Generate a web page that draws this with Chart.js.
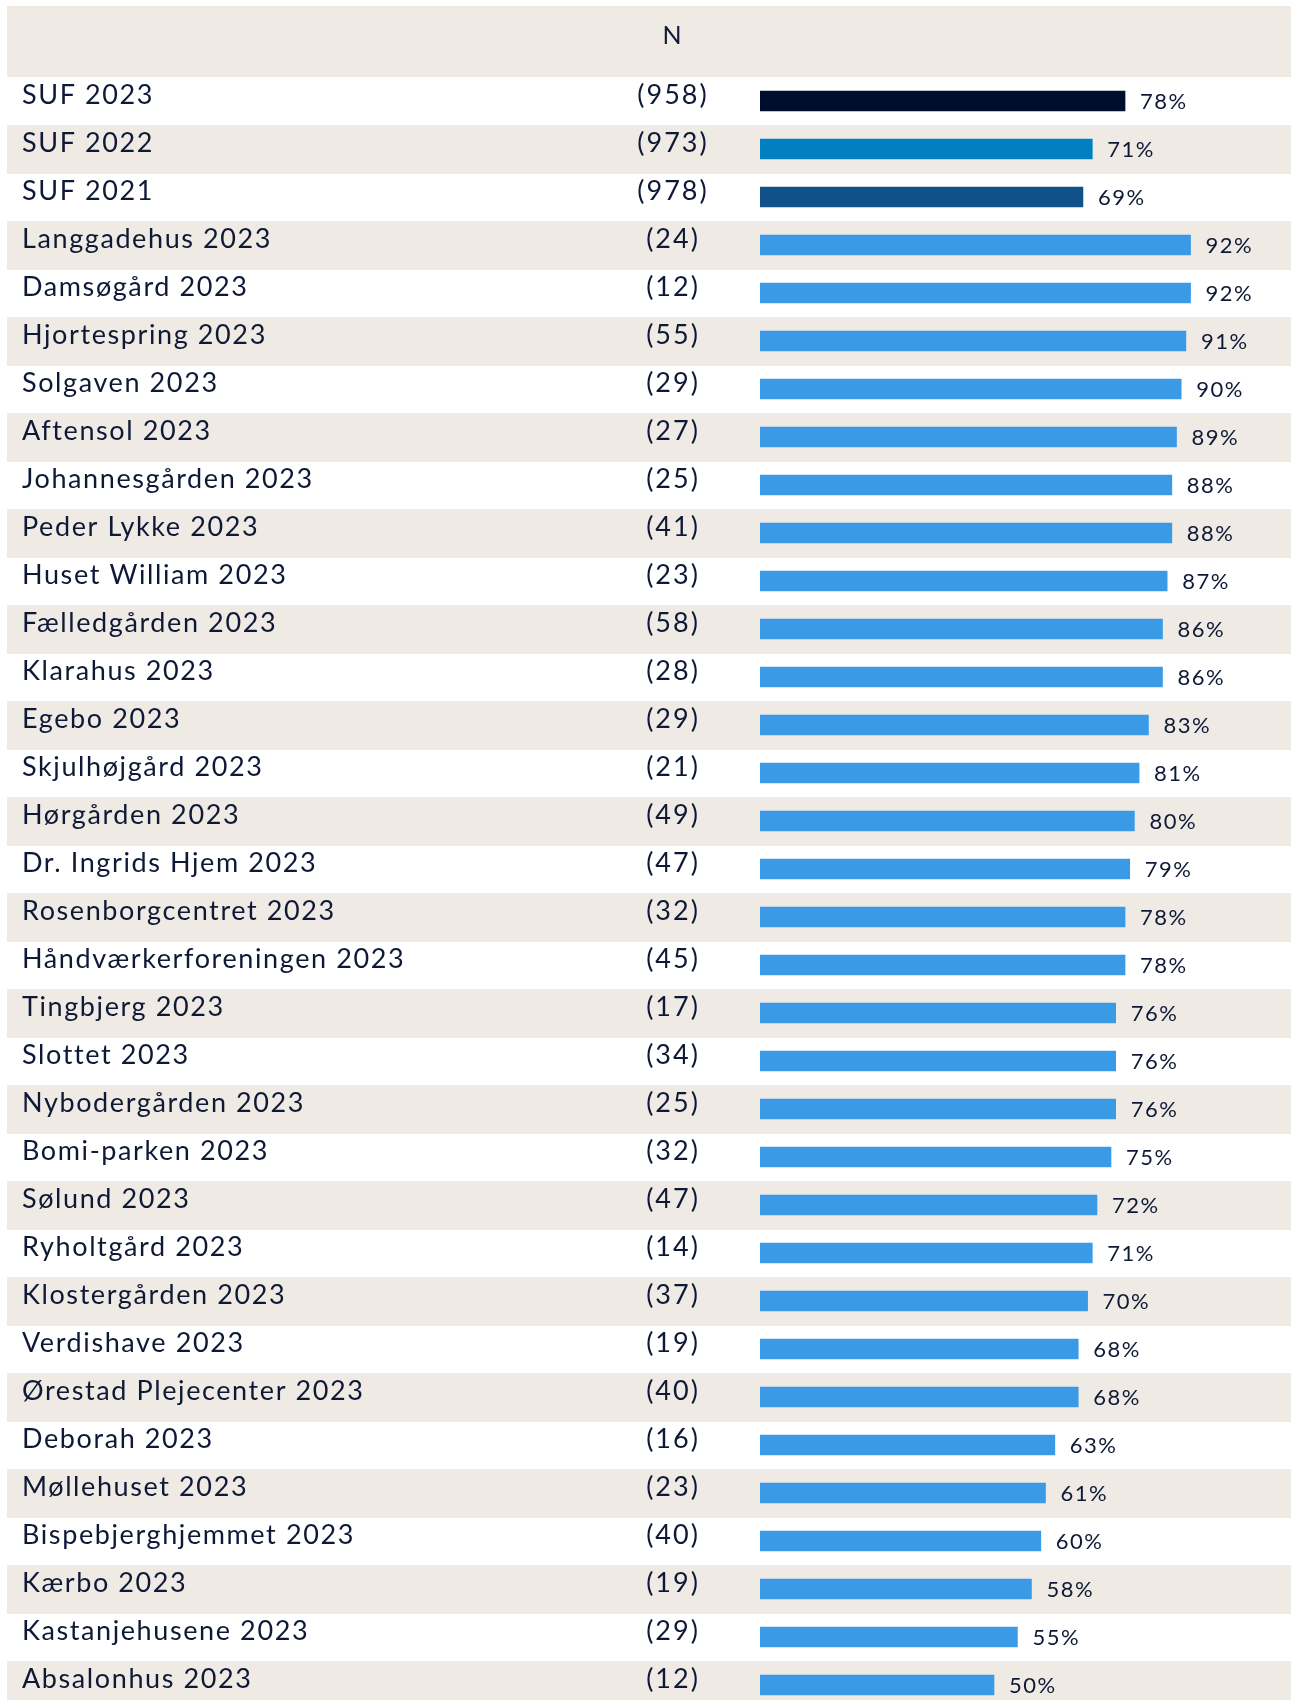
<!DOCTYPE html>
<html>
<head>
<meta charset="utf-8">
<script src="https://cdn.jsdelivr.net/npm/chart.js@4/dist/chart.umd.min.js"></script>
<style>
  html, body { margin: 0; padding: 0; background: #ffffff; overflow: hidden; }
  #wrap { position: absolute; left: 0; top: 0; width: 1291px; height: 1710px; }
</style>
</head>
<body>
<div id="wrap"><canvas id="satisfactionChart" width="1291" height="1710"></canvas></div>
<script>
// Rows, top to bottom
const categories = [
  "SUF 2023", "SUF 2022", "SUF 2021", "Langgadehus 2023", "Damsøgård 2023",
  "Hjortespring 2023", "Solgaven 2023", "Aftensol 2023", "Johannesgården 2023",
  "Peder Lykke 2023", "Huset William 2023", "Fælledgården 2023", "Klarahus 2023",
  "Egebo 2023", "Skjulhøjgård 2023", "Hørgården 2023", "Dr. Ingrids Hjem 2023",
  "Rosenborgcentret 2023", "Håndværkerforeningen 2023", "Tingbjerg 2023",
  "Slottet 2023", "Nybodergården 2023", "Bomi-parken 2023", "Sølund 2023",
  "Ryholtgård 2023", "Klostergården 2023", "Verdishave 2023",
  "Ørestad Plejecenter 2023", "Deborah 2023", "Møllehuset 2023",
  "Bispebjerghjemmet 2023", "Kærbo 2023", "Kastanjehusene 2023", "Absalonhus 2023"
];

// Number of respondents (N column)
const nValues = [
  958, 973, 978, 24, 12, 55, 29, 27, 25, 41, 23, 58, 28, 29, 21, 49, 47,
  32, 45, 17, 34, 25, 32, 47, 14, 37, 19, 40, 16, 23, 40, 19, 29, 12
];

// Share in percent
const percentValues = [
  78, 71, 69, 92, 92, 91, 90, 89, 88, 88, 87, 86, 86, 83, 81, 80, 79,
  78, 78, 76, 76, 76, 75, 72, 71, 70, 68, 68, 63, 61, 60, 58, 55, 50
];

const headerLabel = "N";

// colours
const suf2023Color = "#000e2e";
const suf2022Color = "#0080c1";
const suf2021Color = "#0f5188";
const unitColor = "#3b9ae6";
const stripeColor = "#efebe4";
const textColor = "#0e1936";
const fontFamily = "Lato, 'Open Sans', sans-serif";

const barColors = categories.map(function (c, i) {
  if (i === 0) return suf2023Color;
  if (i === 1) return suf2022Color;
  if (i === 2) return suf2021Color;
  return unitColor;
});

// Draws the striped table background, the row texts and the value labels
const tablePlugin = {
  id: "tableRows",
  beforeDraw(chart) {
    const ctx = chart.ctx;
    const yScale = chart.scales.y;
    const half = (yScale.getPixelForValue(1) - yScale.getPixelForValue(0)) / 2;
    ctx.save();
    ctx.fillStyle = stripeColor;
    // header band
    ctx.fillRect(7, 6, chart.width - 7, chart.chartArea.top - 6);
    categories.forEach(function (c, i) {
      if (i % 2 === 1) {
        const yc = yScale.getPixelForValue(i);
        ctx.fillRect(7, Math.round(yc - half), chart.width - 7, Math.round(half * 2) + 1);
      }
    });
    ctx.restore();
  },
  afterDatasetsDraw(chart) {
    const ctx = chart.ctx;
    const yScale = chart.scales.y;
    const meta = chart.getDatasetMeta(0);
    ctx.save();
    ctx.fillStyle = textColor;

    // header
    ctx.font = "25px " + fontFamily;
    ctx.letterSpacing = "0px";
    ctx.textAlign = "center";
    ctx.textBaseline = "alphabetic";
    ctx.fillText(headerLabel, 672, 44);

    categories.forEach(function (c, i) {
      const yc = yScale.getPixelForValue(i);

      ctx.font = "27px " + fontFamily;
      ctx.letterSpacing = "1.6px";
      ctx.textAlign = "left";
      ctx.fillText(c, 22, yc + 3);

      ctx.letterSpacing = "2px";
      ctx.textAlign = "center";
      ctx.fillText("(" + nValues[i] + ")", 673, yc + 3);

      const bar = meta.data[i];
      ctx.font = "22px " + fontFamily;
      ctx.letterSpacing = "1.5px";
      ctx.textAlign = "left";
      ctx.fillText(percentValues[i] + "%", bar.x + 15, yc + 8);
    });
    ctx.restore();
  },
};

const chartEl = document.getElementById("satisfactionChart");
chartEl.chart = new Chart(chartEl.getContext("2d"), {
  type: "bar",
  data: {
    labels: categories,
    datasets: [
      {
        label: "Andel",
        data: percentValues,
        backgroundColor: barColors,
        borderWidth: 0,
        barThickness: 20,
      },
    ],
  },
  options: {
    indexAxis: "y",
    responsive: false,
    maintainAspectRatio: false,
    devicePixelRatio: 1,
    animation: false,
    layout: {
      padding: { left: 760, right: 63, top: 77, bottom: 1 },
    },
    plugins: {
      legend: { display: false },
      tooltip: { enabled: false },
      title: { display: false },
    },
    scales: {
      x: { display: false, min: 0, max: 100 },
      y: { display: false, offset: true, grid: { display: false } },
    },
  },
  plugins: [tablePlugin],
});
</script>
</body>
</html>
